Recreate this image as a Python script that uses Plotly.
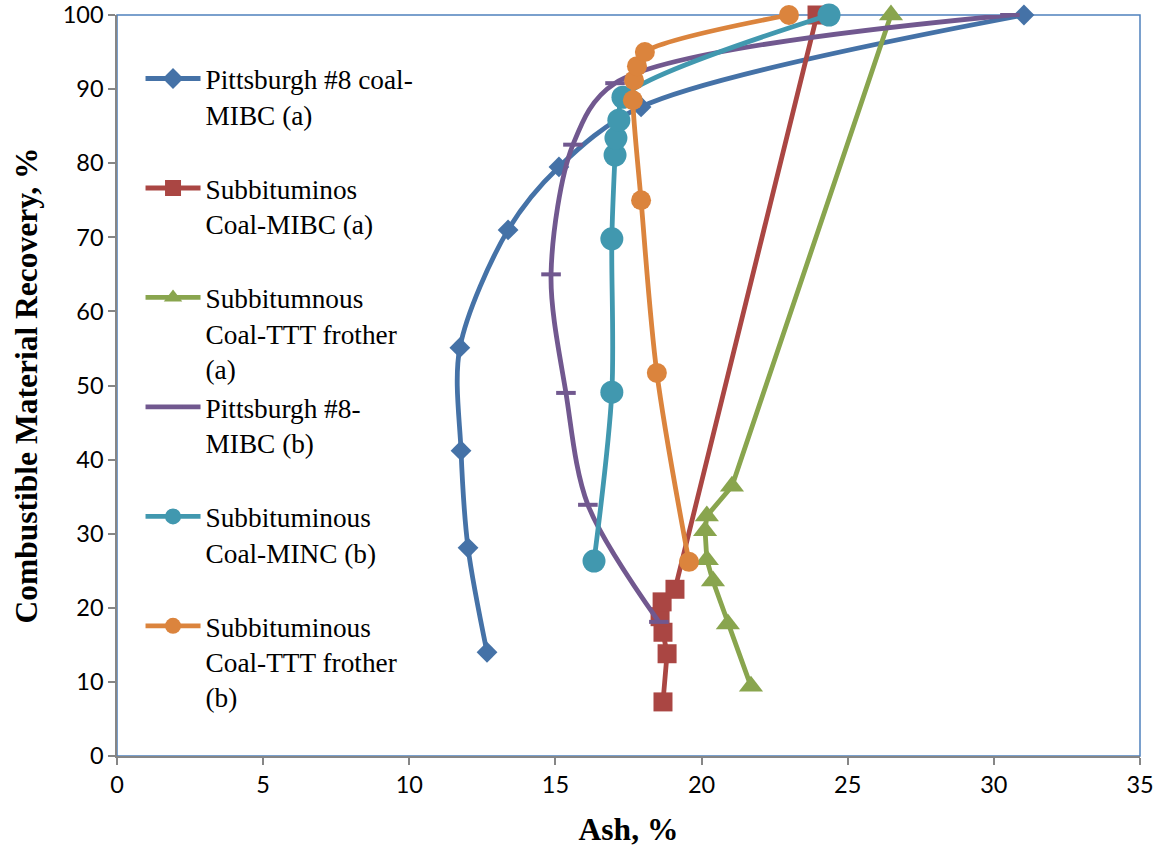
import plotly.graph_objects as go

# Combustible material recovery (%) versus ash content (%) for each coal/frother test
pitt_a_ash = [12.66, 12.01, 11.77, 11.73, 13.38, 15.12, 17.93, 31.03]
pitt_a_rec = [14.0, 28.1, 41.2, 55.1, 71.0, 79.5, 87.6, 100.0]

subb_mibc_a_ash = [18.68, 18.82, 18.68, 18.58, 18.65, 19.09, 23.95]
subb_mibc_a_rec = [7.3, 13.8, 16.7, 18.8, 20.8, 22.5, 100.0]

subb_ttt_a_ash = [21.69, 20.90, 20.39, 20.18, 20.12, 20.18, 21.04, 26.48]
subb_ttt_a_rec = [9.4, 17.8, 23.6, 26.5, 30.4, 32.4, 36.4, 100.0]

pitt_b_ash = [18.54, 16.11, 15.36, 14.85, 15.60, 17.04, 30.55]
pitt_b_rec = [18.1, 33.9, 49.0, 65.0, 82.5, 90.8, 100.0]

subb_minc_b_ash = [16.32, 16.93, 16.93, 17.04, 17.07, 17.17, 17.31, 24.36]
subb_minc_b_rec = [26.3, 49.1, 69.8, 81.1, 83.4, 85.8, 88.9, 100.0]

subb_ttt_b_ash = [19.57, 18.47, 17.93, 17.65, 17.69, 17.79, 18.06, 22.99]
subb_ttt_b_rec = [26.2, 51.7, 75.0, 88.5, 91.2, 93.1, 95.0, 100.0]

x_ticks = [0, 5, 10, 15, 20, 25, 30, 35]
y_ticks = [0, 10, 20, 30, 40, 50, 60, 70, 80, 90, 100]

BLUE = "#4572A7"
RED = "#AA4643"
GREEN = "#89A54E"
PURPLE = "#71588F"
TEAL = "#4198AF"
ORANGE = "#DB843D"

# every legend entry takes three text lines so the entries are evenly spaced
PAD = "<br>\u00a0"

series = [
    dict(x=pitt_a_ash, y=pitt_a_rec, name="Pittsburgh #8 coal-<br>MIBC (a)" + PAD,
         color=BLUE, symbol="diamond", size=16, shape="spline"),
    dict(x=subb_mibc_a_ash, y=subb_mibc_a_rec, name="Subbituminos<br>Coal-MIBC (a)" + PAD,
         color=RED, symbol="square", size=19, shape="linear"),
    dict(x=subb_ttt_a_ash, y=subb_ttt_a_rec, name="Subbitumnous<br>Coal-TTT frother<br>(a)",
         color=GREEN, symbol="triangle-up", size=21, shape="linear"),
    dict(x=pitt_b_ash, y=pitt_b_rec, name="Pittsburgh #8-<br>MIBC (b)" + PAD,
         color=PURPLE, symbol="line-ew", size=14, shape="spline"),
    dict(x=subb_minc_b_ash, y=subb_minc_b_rec, name="Subbituminous<br>Coal-MINC (b)" + PAD,
         color=TEAL, symbol="circle", size=23, shape="spline"),
    dict(x=subb_ttt_b_ash, y=subb_ttt_b_rec, name="Subbituminous<br>Coal-TTT frother<br>(b)",
         color=ORANGE, symbol="circle", size=20, shape="spline"),
]

fig = go.Figure()
for s in series:
    marker = dict(symbol=s["symbol"], size=s["size"], color=s["color"])
    if s["symbol"] == "line-ew":
        marker["line"] = dict(color=s["color"], width=4)
    else:
        marker["line"] = dict(width=0)
    fig.add_trace(go.Scatter(
        x=s["x"], y=s["y"], name=s["name"], mode="lines+markers",
        line=dict(color=s["color"], width=4.8, shape=s["shape"], smoothing=0.9),
        marker=marker, cliponaxis=False,
    ))

axis_font = dict(family="Lato, Carlito, Calibri, sans-serif", size=23.5, color="#000000")
serif = "Times New Roman, Liberation Serif, serif"
title_font = dict(family=serif, size=31.5, color="#000000", weight="bold")

fig.update_layout(
    width=1162, height=852,
    margin=dict(l=117, r=22, t=15, b=96),
    paper_bgcolor="white", plot_bgcolor="white",
    showlegend=True,
    legend=dict(
        x=0.023, y=0.947, xanchor="left", yanchor="top",
        bgcolor="rgba(0,0,0,0)", borderwidth=0,
        font=dict(family=serif, size=27.3, color="#000000"),
        valign="top", itemwidth=55, tracegroupgap=0,
    ),
    xaxis=dict(
        range=[0, 35], tickvals=x_ticks, ticktext=[str(v) for v in x_ticks],
        showgrid=False, zeroline=False, showline=True, linecolor="#868686", linewidth=1.5,
        ticks="outside", ticklen=7, tickcolor="#868686", tickwidth=1.5,
        tickfont=axis_font, automargin=False,
        title=dict(text="Ash, %", font=title_font, standoff=21),
    ),
    yaxis=dict(
        range=[0, 100], tickvals=y_ticks, ticktext=[str(v) for v in y_ticks],
        showgrid=False, zeroline=False, showline=True, linecolor="#868686", linewidth=1.5,
        ticks="outside", ticklen=7, tickcolor="#868686", tickwidth=1.5,
        tickfont=axis_font, automargin=False,
        title=dict(text="Combustible Material Recovery, %", font=title_font, standoff=16),
    ),
    shapes=[dict(type="rect", xref="paper", yref="paper", x0=0, y0=0, x1=1, y1=1,
                 line=dict(color="#4F81BD", width=1.5), layer="below")],
)

fig.write_html("out.html")
